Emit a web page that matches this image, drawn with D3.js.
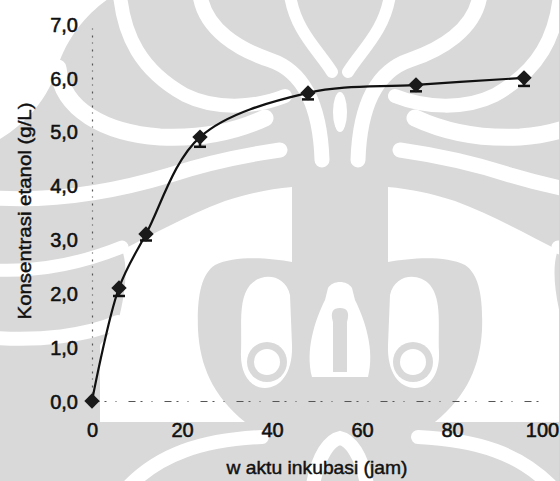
<!DOCTYPE html>
<html><head><meta charset="utf-8">
<script src="https://cdn.jsdelivr.net/npm/d3@7"></script>
<style>
html,body{margin:0;padding:0;background:#fff;}
svg{display:block;}
text{font-family:Arial,"Liberation Sans",sans-serif;fill:#111;}
</style></head><body>
<svg id="c" width="559" height="481"></svg>
<script>
// ---- data ----
const hours   = [0, 6, 12, 24, 48, 72, 96];
const ethanol = [0.0, 2.1, 3.1, 4.9, 5.72, 5.87, 6.0];
const errLow  = [0.0, 0.15, 0.12, 0.18, 0.12, 0.12, 0.15];
const xTicks = [0, 20, 40, 60, 80, 100];
const yTicks = [0, 1, 2, 3, 4, 5, 6, 7];
const yTickLabels = ["0,0","1,0","2,0","3,0","4,0","5,0","6,0","7,0"];
const xTitle = "w aktu inkubasi (jam)";
const yTitle = "Konsentrasi etanol (g/L)";

const W = 559, H = 481;
const svg = d3.select("#c");
svg.append("rect").attr("width", W).attr("height", H).attr("fill", "#fff");

// ---- watermark (decorative background) ----
const wm = svg.append("g");
wm.append("rect").attr("width", W).attr("height", H).attr("fill", "#d9d9d9");
const grey = "#d9d9d9";
function half(g) {
  const fills = [
    "M-5,-5 L114,-5 C90,10 68,35 58,66 C48,100 25,125 -5,142 Z",
    "M100,422 L100,345 L118,322 C126,292 128,265 122,250 C150,236 185,216 225,201 C250,193 270,189 292,187 L292,262 C270,258 235,255 215,265 C200,275 197,300 198,330 C200,365 212,395 245,422 Z",
    "M250,285 C262,272 285,274 290,295 L292,345 C293,372 281,388 265,388 C249,388 240,372 241,352 C242,325 238,300 250,285 Z"
  ];
  fills.forEach(p => g.append("path").attr("d", p).attr("fill", "#fff"));
  g.append("circle").attr("cx", 267).attr("cy", 362).attr("r", 20).attr("fill", grey);
  g.append("circle").attr("cx", 267).attr("cy", 362).attr("r", 13).attr("fill", "#fff");
  const strokes = [
    ["M120,-5 C124,35 140,70 185,95 C215,110 255,108 285,96", 14],
    ["M200,-5 C205,30 240,50 270,60 C300,70 320,100 322,160", 15],
    ["M58,68 C62,110 105,133 160,137 C200,139 235,132 265,118", 17],
    ["M-5,198 C60,202 120,190 170,175 C210,162 245,155 280,150", 15],
    ["M290,-5 C295,30 318,50 332,72", 12],
    ["M-5,270 C40,272 85,262 122,247", 13],
    ["M-5,338 C40,341 85,336 118,322", 14],
    ["M130,485 C160,455 200,440 262,437", 14]
  ];
  strokes.forEach(s => g.append("path").attr("d", s[0]).attr("fill", "none")
    .attr("stroke", "#fff").attr("stroke-width", s[1]).attr("stroke-linecap", "round"));
}
half(wm.append("g"));
half(wm.append("g").attr("transform", "translate(680,0) scale(-1,1)"));
// centre pieces
wm.append("ellipse").attr("cx", 340).attr("cy", 112).attr("rx", 7).attr("ry", 20).attr("fill", "#fff");
wm.append("path").attr("d", "M312,377 C305,350 315,320 325,300 L328,288 C333,280 347,280 352,288 L355,300 C365,320 375,350 368,377 Z").attr("fill", "#fff");
wm.append("path").attr("d", "M333,372 L333,322 C330,312 333,308 340,308 C347,308 350,312 347,322 L347,372 Z").attr("fill", grey);
wm.append("path").attr("d", "M313,485 C318,455 330,440 340,438 C350,440 362,455 367,485")
  .attr("fill", "none").attr("stroke", "#fff").attr("stroke-width", 14);

// ---- scales ----
const x = d3.scaleLinear().domain([0, 100]).range([92, 542]);
const y = d3.scaleLinear().domain([0, 7]).range([401, 24]);

const FONT = "Arial, 'Liberation Sans', sans-serif";

// ---- axes ----
const yAxis = svg.append("g").attr("transform", `translate(${x(0)},0)`)
  .call(d3.axisLeft(y).tickValues(yTicks).tickSize(0).tickPadding(14)
    .tickFormat((d, i) => yTickLabels[i]));
yAxis.select(".domain").attr("stroke", "#555").attr("stroke-width", 1.2)
  .attr("stroke-dasharray", "2 6 1 5");
yAxis.selectAll("text").attr("font-size", 20).attr("fill", "#111")
  .attr("font-family", FONT)
  .attr("stroke", "#111").attr("stroke-width", 0.55).attr("dy", "0.36em");

const xAxis = svg.append("g").attr("transform", `translate(0,${y(0)})`)
  .call(d3.axisBottom(x).tickValues(xTicks).tickSize(0).tickPadding(22)
    .tickFormat(d3.format("d")));
xAxis.select(".domain").attr("stroke", "#555").attr("stroke-width", 1.2)
  .attr("stroke-dasharray", "7 5 2 9 1 12");
xAxis.selectAll("text").attr("font-size", 20).attr("fill", "#111")
  .attr("font-family", FONT)
  .attr("stroke", "#111").attr("stroke-width", 0.55);

// ---- titles ----
svg.append("text").attr("x", 317).attr("y", 474).attr("text-anchor", "middle")
  .attr("font-size", 19).attr("font-family", FONT).attr("stroke", "#111").attr("stroke-width", 0.45)
  .attr("textLength", 181).attr("lengthAdjust", "spacingAndGlyphs").text(xTitle);
svg.append("text").attr("transform", "translate(31,211) rotate(-90)")
  .attr("text-anchor", "middle").attr("font-size", 19).attr("font-family", FONT)
  .attr("stroke", "#111").attr("stroke-width", 0.45)
  .attr("textLength", 217).attr("lengthAdjust", "spacingAndGlyphs").text(yTitle);

// ---- data ----
const pts = hours.map((h, i) => ({h, v: ethanol[i], e: errLow[i]}));
svg.append("path").datum(pts)
  .attr("d", d3.line().x(d => x(d.h)).y(d => y(d.v)).curve(d3.curveCatmullRom.alpha(0.5)))
  .attr("fill", "none").attr("stroke", "#111").attr("stroke-width", 2.2);

const eb = svg.append("g").selectAll("g").data(pts.filter(d => d.e > 0)).join("g");
eb.append("line").attr("x1", d => x(d.h)).attr("x2", d => x(d.h))
  .attr("y1", d => y(d.v)).attr("y2", d => y(d.v - d.e))
  .attr("stroke", "#111").attr("stroke-width", 2.5);
eb.append("line").attr("x1", d => x(d.h) - 6).attr("x2", d => x(d.h) + 6)
  .attr("y1", d => y(d.v - d.e)).attr("y2", d => y(d.v - d.e))
  .attr("stroke", "#111").attr("stroke-width", 2.5);

svg.append("g").selectAll("path").data(pts).join("path")
  .attr("transform", d => `translate(${x(d.h)},${y(d.v)}) rotate(45)`)
  .attr("d", d3.symbol().type(d3.symbolSquare).size(118))
  .attr("fill", "#1a1a1a");
</script>
</body></html>
